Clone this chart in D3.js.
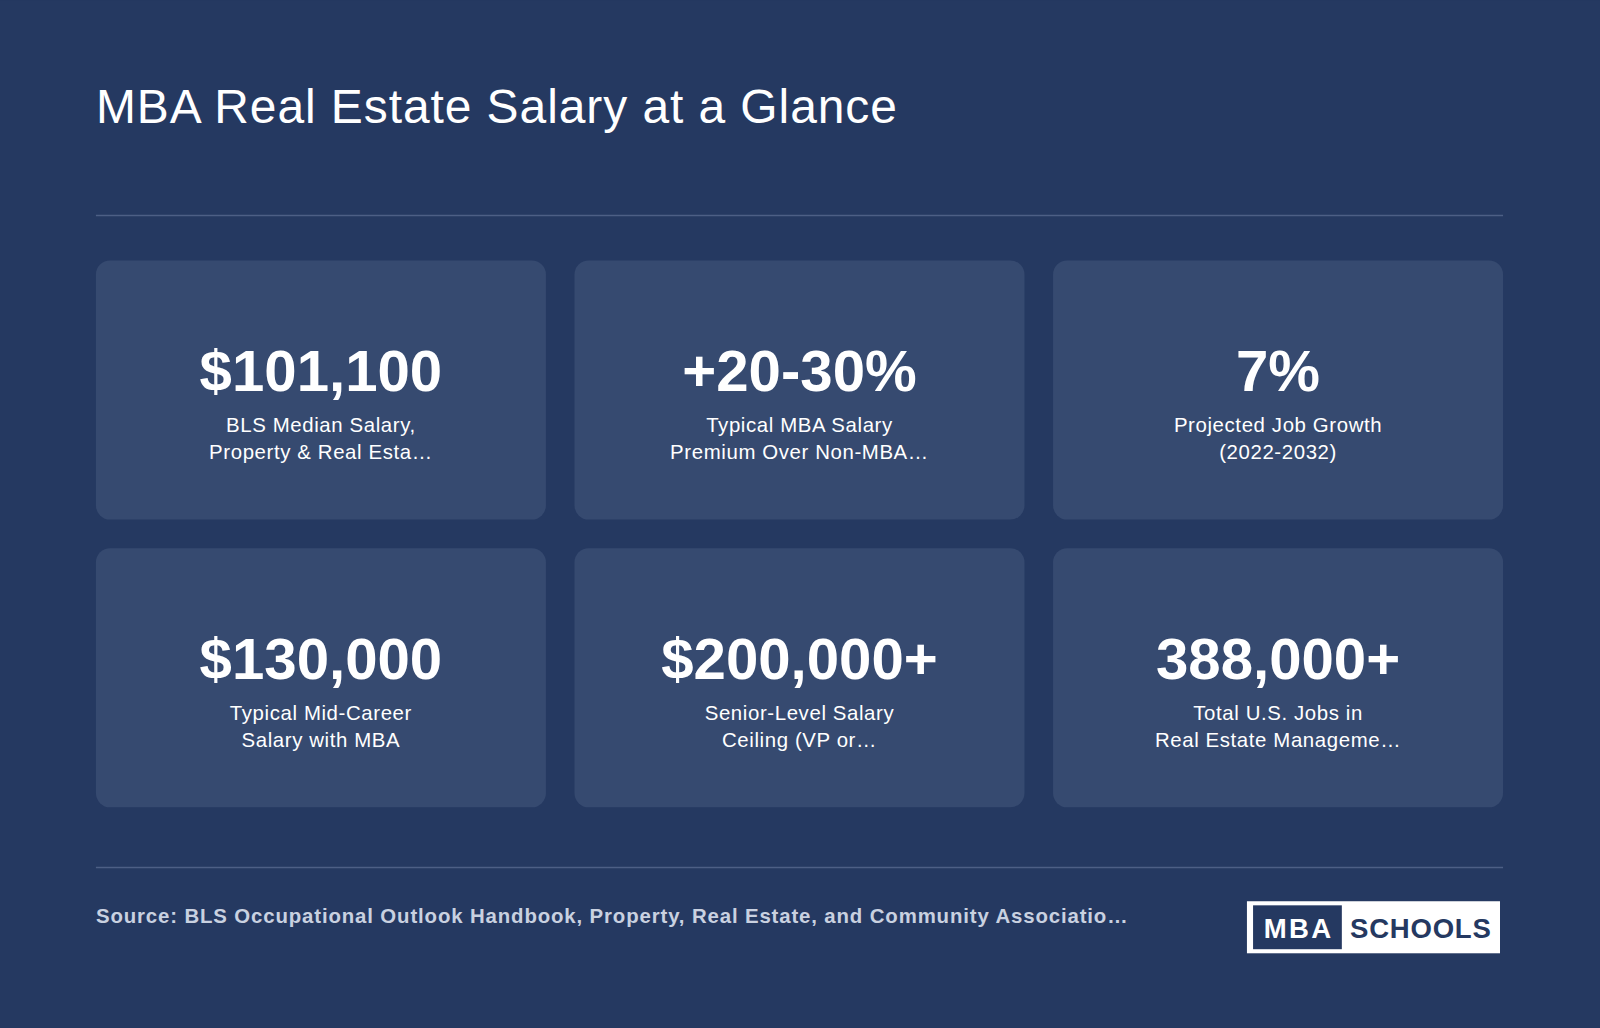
<!DOCTYPE html><html><head><meta charset="utf-8"><script src="https://cdn.jsdelivr.net/npm/d3@7"></script>
<style>html,body{margin:0;padding:0;background:#253961;overflow:hidden}</style></head><body><script>
const title="MBA Real Estate Salary at a Glance";
const values=["$101,100","+20-30%","7%","$130,000","$200,000+","388,000+"];
const labels1=["BLS Median Salary,","Typical MBA Salary","Projected Job Growth","Typical Mid-Career","Senior-Level Salary","Total U.S. Jobs in"];
const labels2=["Property & Real Esta…","Premium Over Non-MBA…","(2022-2032)","Salary with MBA","Ceiling (VP or…","Real Estate Manageme…"];
const source="Source: BLS Occupational Outlook Handbook, Property, Real Estate, and Community Associatio…";
const F="Liberation Sans, Arial, Helvetica, sans-serif";
const svg=d3.select("body").append("svg").attr("width",1600).attr("height",1028).attr("viewBox","0 0 1568 1007");
svg.append("rect").attr("width",1568).attr("height",1007).attr("fill","#253961");
svg.append("text").attr("x",94).attr("y",120).attr("fill","#fff").attr("font-family",F).attr("font-size",47).attr("textLength",785).text(title);
[211,850].forEach(y=>svg.append("line").attr("x1",94).attr("x2",1473).attr("y1",y).attr("y2",y).attr("stroke","#4d5f85").attr("stroke-width",1.5));
const cw=441,ch=254;
const g=svg.selectAll("g.card").data(values).join("g").attr("transform",(d,i)=>`translate(${94+(i%3)*469},${255+Math.floor(i/3)*282})`);
g.append("rect").attr("width",cw).attr("height",ch).attr("rx",14).attr("fill","#364a70");
g.append("text").attr("x",cw/2).attr("y",128).attr("text-anchor","middle").attr("fill","#fff").attr("font-family",F).attr("font-weight","bold").attr("font-size",57).text(d=>d);
g.append("text").attr("x",cw/2).attr("y",168).attr("text-anchor","middle").attr("fill","#fff").attr("font-family",F).attr("font-size",20).attr("letter-spacing",0.6).text((d,i)=>labels1[i]);
g.append("text").attr("x",cw/2).attr("y",195).attr("text-anchor","middle").attr("fill","#fff").attr("font-family",F).attr("font-size",20).attr("letter-spacing",0.6).text((d,i)=>labels2[i]);
svg.append("text").attr("x",94).attr("y",904).attr("fill","#c9d1e0").attr("font-family",F).attr("font-weight","bold").attr("font-size",20).attr("textLength",1011).text(source);
const lg=svg.append("g").attr("transform","translate(1222,883)");
lg.append("rect").attr("width",248).attr("height",51).attr("fill","#fff");
lg.append("rect").attr("x",6).attr("y",4).attr("width",87).attr("height",43).attr("fill","#253961");
lg.append("text").attr("x",49.5).attr("y",36).attr("text-anchor","middle").attr("fill","#fff").attr("font-family",F).attr("font-weight","bold").attr("font-size",27).attr("textLength",66).text("MBA");
lg.append("text").attr("x",170).attr("y",36).attr("text-anchor","middle").attr("fill","#253961").attr("font-family",F).attr("font-weight","bold").attr("font-size",27).attr("textLength",138).text("SCHOOLS");
</script></body></html>
